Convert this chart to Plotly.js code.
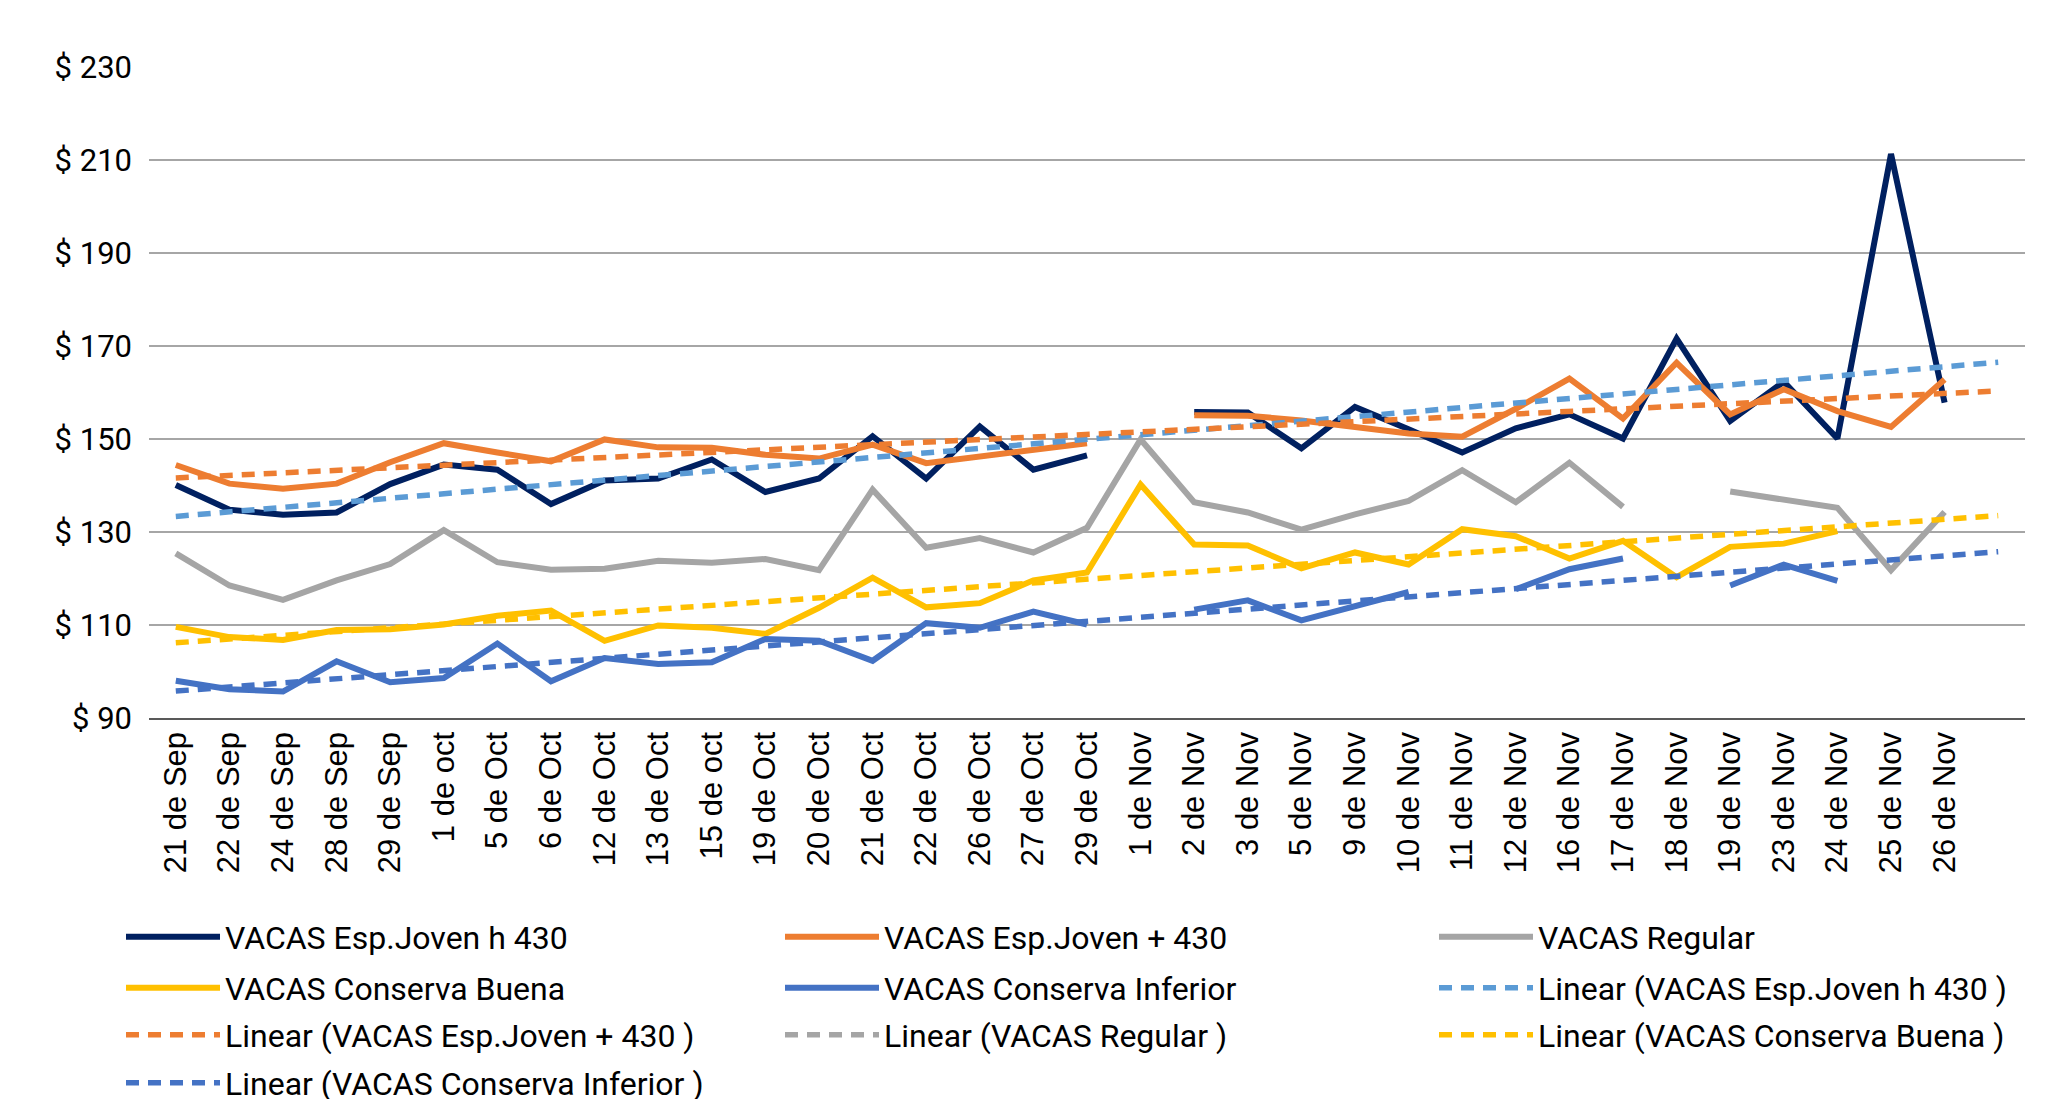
<!DOCTYPE html>
<html>
<head>
<meta charset="utf-8">
<script src="https://cdn.plot.ly/plotly-3.0.1.min.js"></script>
<style>
html, body { margin: 0; padding: 0; background: #ffffff; }
#chart { width: 2068px; height: 1099px; }
</style>
</head>
<body>
<div id="chart"></div>
<script>
// ---- Data ----
const categories = ['21 de Sep','22 de Sep','24 de Sep','28 de Sep','29 de Sep','1 de oct','5 de Oct','6 de Oct','12 de Oct','13 de Oct','15 de oct','19 de Oct','20 de Oct','21 de Oct','22 de Oct','26 de Oct','27 de Oct','29 de Oct','1 de Nov','2 de Nov','3 de Nov','5 de Nov','9 de Nov','10 de Nov','11 de Nov','12 de Nov','16 de Nov','17 de Nov','18 de Nov','19 de Nov','23 de Nov','24 de Nov','25 de Nov','26 de Nov',''];

const espJovenH430 = [140.1,134.8,133.7,134.2,140.3,144.5,143.4,136.0,141.1,141.5,145.6,138.6,141.5,150.6,141.5,152.7,143.4,146.5,null,155.8,155.7,148.0,156.9,152.1,147.1,152.3,155.3,150.1,171.6,153.9,162.3,150.1,211.3,157.8,null];
const espJovenMas430 = [144.4,140.4,139.3,140.4,145.0,149.1,147.1,145.2,149.9,148.2,148.1,146.6,145.8,148.8,144.8,146.3,147.7,149.1,null,155.1,155.0,154.0,152.7,151.2,150.5,156.5,163.0,154.4,166.4,155.3,160.7,156.0,152.6,162.8,null];
const regular = [125.4,118.5,115.4,119.6,123.1,130.4,123.5,121.9,122.1,123.8,123.4,124.2,121.8,139.1,126.6,128.7,125.6,130.9,149.9,136.4,134.2,130.5,133.8,136.7,143.3,136.4,144.9,135.4,null,138.7,137.0,135.2,121.8,134.3,null];
const conservaBuena = [109.6,107.4,106.8,108.9,109.1,110.1,112.0,113.1,106.6,109.9,109.4,108.1,113.7,120.2,113.8,114.7,119.6,121.3,140.2,127.3,127.1,122.2,125.6,123.0,130.6,129.1,124.3,128.1,120.3,126.8,127.5,130.2,null,null,null];
const conservaInferior = [98.0,96.2,95.7,102.2,97.7,98.6,106.0,97.9,102.9,101.6,102.0,107.0,106.6,102.3,110.4,109.4,112.9,110.1,null,113.3,115.3,111.0,114.1,117.1,null,117.7,122.0,124.3,null,118.5,123.0,119.5,null,null,null];

const seriesNames = ['VACAS Esp.Joven h 430','VACAS Esp.Joven + 430','VACAS Regular','VACAS Conserva Buena','VACAS Conserva Inferior'];
const yTickValues = [90,110,130,150,170,190,210,230];
const yTickLabels = ['$ 90','$ 110','$ 130','$ 150','$ 170','$ 190','$ 210','$ 230'];

// ---- Styling ----
const lineColors = ['#002060','#ED7D31','#A5A5A5','#FFC000','#4472C4'];
const trendColors = ['#5B9BD5','#ED7D31','#A5A5A5','#FFC000','#4472C4'];

const xIdx = categories.map((c, i) => i);
const allSeries = [espJovenH430, espJovenMas430, regular, conservaBuena, conservaInferior];

// least-squares linear trend (Excel style: x = 1..N, blanks skipped)
function linearTrend(vals) {
  let n = 0, sx = 0, sy = 0, sxx = 0, sxy = 0;
  vals.forEach((v, i) => {
    if (v === null) return;
    const x = i + 1;
    n++; sx += x; sy += v; sxx += x * x; sxy += x * v;
  });
  const b = (n * sxy - sx * sy) / (n * sxx - sx * sx);
  const a = (sy - b * sx) / n;
  return xIdx.map(i => a + b * (i + 1));
}

// one legend per entry, laid out in a 3-column grid like the reference
const legendName = (k) => k === 0 ? 'legend' : 'legend' + (k + 1);
const colX = [121, 780, 1434];
const rowY = [937, 988, 1035, 1083];

const traces = [];
allSeries.forEach((vals, s) => {
  traces.push({
    type: 'scatter', mode: 'lines', name: seriesNames[s],
    x: xIdx, y: vals, connectgaps: false,
    line: { color: lineColors[s], width: 6 },
    legend: legendName(s), hoverinfo: 'x+y'
  });
});
allSeries.forEach((vals, s) => {
  const isHidden = (s === 2); // the Regular trend is not drawn in the plot
  traces.push({
    type: 'scatter', mode: 'lines', name: 'Linear (' + seriesNames[s] + ' )',
    x: isHidden ? [null] : xIdx,
    y: isHidden ? [null] : linearTrend(vals),
    line: { color: trendColors[s], width: 5.5, dash: '13px,9px' },
    legend: legendName(5 + s), showlegend: true, hoverinfo: 'skip'
  });
});

const legendFont = { family: 'Roboto, sans-serif', size: 32, color: '#000000' };
function makeLegend(pos) {
  const r = Math.floor(pos / 3), c = pos % 3;
  return {
    orientation: 'h', xref: 'container', yref: 'container',
    x: colX[c] / 2068, xanchor: 'left',
    y: 1 - rowY[r] / 1099, yanchor: 'middle',
    itemwidth: 94, font: legendFont,
    bgcolor: 'rgba(0,0,0,0)', borderwidth: 0,
    itemclick: false, itemdoubleclick: false
  };
}

const layout = {
  width: 2068, height: 1099,
  paper_bgcolor: '#ffffff', plot_bgcolor: '#ffffff',
  margin: { l: 149, r: 43, t: 67, b: 381 },
  showlegend: true,
  font: { family: 'Roboto, sans-serif', color: '#000000' },
  xaxis: {
    range: [-0.5, 34.5],
    tickmode: 'array', tickvals: xIdx, ticktext: categories,
    tickangle: -90, ticks: '', ticklabelstandoff: 0,
    tickfont: { family: 'Liberation Sans, Arial, sans-serif', size: 31, color: '#000000' },
    showgrid: false, zeroline: false,
    showline: true, linecolor: '#595959', linewidth: 1.5,
    fixedrange: true
  },
  yaxis: {
    range: [90, 230],
    tickmode: 'array', tickvals: yTickValues, ticktext: yTickLabels,
    ticks: '', ticklabelstandoff: 16,
    tickfont: { family: 'Roboto, sans-serif', size: 31, color: '#000000' },
    showgrid: true, gridcolor: '#A6A6A6', gridwidth: 1.3,
    zeroline: false, showline: false,
    fixedrange: true
  }
};
for (let k = 0; k < 10; k++) layout[legendName(k)] = makeLegend(k);

Plotly.newPlot('chart', traces, layout, { displayModeBar: false, staticPlot: true });
</script>
</body>
</html>
